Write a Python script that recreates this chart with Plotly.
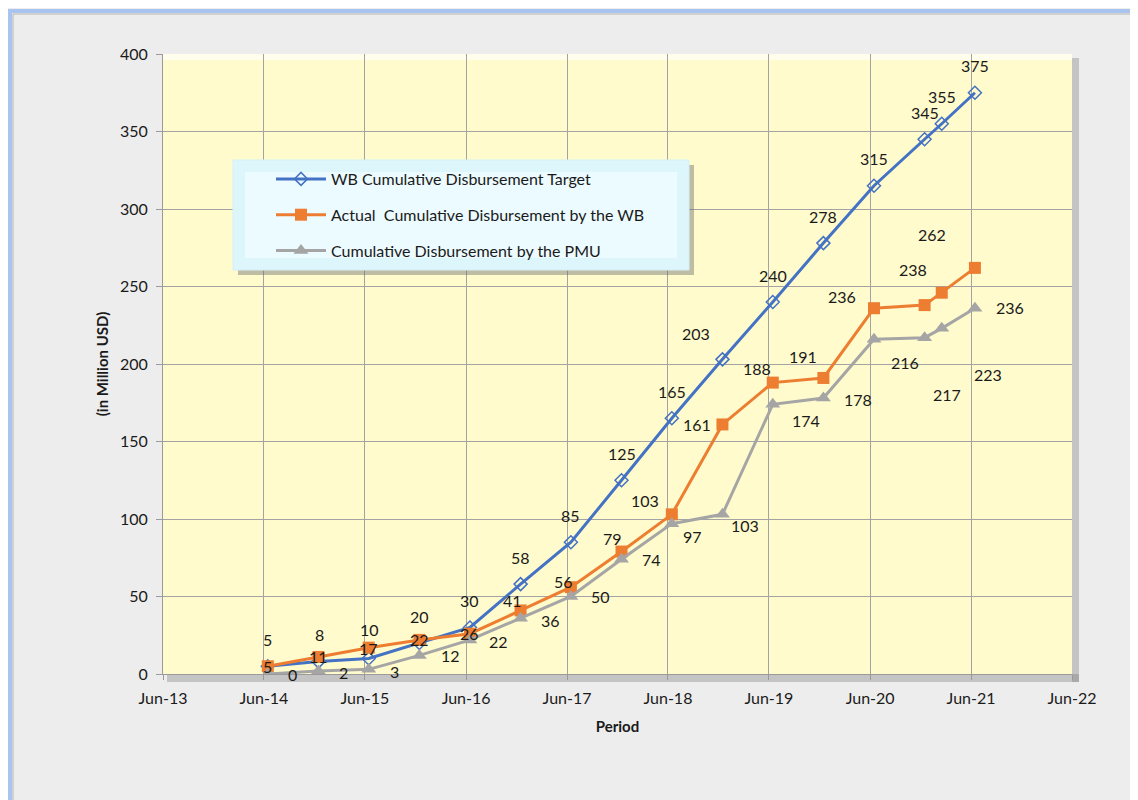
import plotly.graph_objects as go

# ---------------- data ----------------
dates = ["2014-06-15", "2014-12-15", "2015-06-15", "2015-12-15", "2016-06-15",
         "2016-12-15", "2017-06-15", "2017-12-15", "2018-06-15", "2018-12-15",
         "2019-06-15", "2019-12-15", "2020-06-15", "2020-12-15", "2021-02-15",
         "2021-06-15"]
wb_target = [5, 8, 10, 20, 30, 58, 85, 125, 165, 203, 240, 278, 315, 345, 355, 375]
wb_actual = [5, 11, 17, 22, 26, 41, 56, 79, 103, 161, 188, 191, 236, 238, 246, 262]
pmu = [0, 2, 3, 12, 22, 36, 50, 74, 97, 103, 174, 178, 216, 217, 223, 236]
actual_label_shown = [True] * 14 + [False, True]

tick_dates = ["2013-06-01", "2014-06-01", "2015-06-01", "2016-06-01", "2017-06-01",
              "2018-06-01", "2019-06-01", "2020-06-01", "2021-06-01", "2022-06-01"]
tick_text = ["Jun-13", "Jun-14", "Jun-15", "Jun-16", "Jun-17",
             "Jun-18", "Jun-19", "Jun-20", "Jun-21", "Jun-22"]

names = ["WB Cumulative Disbursement Target",
         "Actual  Cumulative Disbursement by the WB",
         "Cumulative Disbursement by the PMU"]

# ---------------- label offsets (pixels, screen dx, dy) ----------------
wb_off = [(0, -27), (1, -27), (1, -29)] + [(0, -27)] * 6 + [(-26, -26)] + [(0, -27)] * 6
act_off = [(0, 0), (0, 0), (0, 1), (0, 0), (0, 0), (-8, -10), (-7, -6), (-9, -13),
           (-27, -14), (-25, 0), (-16, -14), (-20, -21), (-32, -12), (-12, -36),
           (0, 0), (-43, -33)]
pmu_off = [(25, 0), (25, 2), (26, 2), (31, 0), (29, 2), (30, 2), (30, 0), (30, 0),
           (21, 13), (23, 11), (33, 16), (35, 1), (31, 23), (22, 57), (46, 46),
           (35, -1)]

FONT = "Lato"
FS = 16
TXT = "#1a1a1a"
BLUE = "#4472C4"
ORANGE = "#ED7D31"
GRAY = "#A5A5A5"

fig = go.Figure()
fig.add_trace(go.Scatter(
    x=dates, y=wb_target, name=names[0], mode="lines+markers", legendgroup="a",
    line=dict(color=BLUE, width=3),
    marker=dict(symbol="diamond-open", size=10, color=BLUE, line=dict(width=1.5, color=BLUE))))
fig.add_trace(go.Scatter(
    x=dates, y=wb_actual, name=names[1], mode="lines+markers", legendgroup="b",
    line=dict(color=ORANGE, width=3),
    marker=dict(symbol="square", size=12, color=ORANGE)))
fig.add_trace(go.Scatter(
    x=dates, y=pmu, name=names[2], mode="lines+markers", legendgroup="c",
    line=dict(color=GRAY, width=3),
    marker=dict(symbol="triangle-up", size=13, color=GRAY)))

annotations = []
def add_labels(vals, offs, shown=None):
    for i, (d, v) in enumerate(zip(dates, vals)):
        if shown is not None and not shown[i]:
            continue
        dx, dy = offs[i]
        annotations.append(dict(x=d, y=v, xref="x", yref="y", text=str(v),
                                showarrow=False, xshift=dx, yshift=-dy,
                                font=dict(family=FONT, size=FS, color=TXT)))

add_labels(wb_target, wb_off)
add_labels(wb_actual, act_off, actual_label_shown)
add_labels(pmu, pmu_off)

# page offset of the figure (body margin) and plot-area geometry in page pixels
OFF = 8
FW, FH = 1138 - OFF, 800 - OFF
L, R, T, B = 163 - OFF, 1072 - OFF, 54 - OFF, 674 - OFF
W, H = R - L, B - T
def px(x):
    return (x - OFF - L) / W
def py(y):
    return (B - (y - OFF)) / H

shapes = [
    # outer frame
    dict(type="rect", xref="paper", yref="paper", x0=px(10), x1=px(1135), y0=py(812), y1=py(11),
         line=dict(color="#A9C4EE", width=4), fillcolor="rgba(0,0,0,0)", layer="below"),
    dict(type="rect", xref="paper", yref="paper", x0=px(13), x1=px(1132), y0=py(809), y1=py(14),
         line=dict(color="#B4B4B4", width=1), fillcolor="rgba(0,0,0,0)", layer="below"),
    # plot area shadow (right and bottom)
    dict(type="rect", xref="paper", yref="paper", x0=px(1072), x1=px(1079), y0=py(682), y1=py(58),
         line=dict(width=0), fillcolor="rgba(120,120,120,0.35)", layer="below"),
    dict(type="rect", xref="paper", yref="paper", x0=px(167), x1=px(1079), y0=py(682), y1=py(674),
         line=dict(width=0), fillcolor="rgba(120,120,120,0.35)", layer="below"),
    # top highlight inside plot area
    dict(type="rect", xref="paper", yref="paper", x0=0, x1=1, y0=py(60), y1=1,
         line=dict(width=0), fillcolor="rgba(255,255,255,0.6)", layer="below"),
    # legend shadow and box
    dict(type="rect", xref="paper", yref="paper", x0=px(238), x1=px(694), y0=py(275), y1=py(165),
         line=dict(width=0), fillcolor="rgba(110,110,110,0.45)", layer="above"),
    dict(type="rect", xref="paper", yref="paper", x0=px(233), x1=px(689), y0=py(270), y1=py(160),
         line=dict(color="#D3F0F7", width=1), fillcolor="#DDF6FC", layer="above"),
    dict(type="rect", xref="paper", yref="paper", x0=px(245), x1=px(677), y0=py(258), y1=py(172),
         line=dict(width=0), fillcolor="rgba(240,252,255,0.8)", layer="above"),
]

fig.update_layout(
    width=FW, height=FH,
    margin=dict(l=L, r=FW - R, t=T, b=FH - B),
    paper_bgcolor="#EDEDED",
    plot_bgcolor="#FFFBCC",
    font=dict(family=FONT, size=FS, color=TXT),
    showlegend=True,
    legend=dict(x=px(271), y=py(162), xanchor="left", yanchor="top",
                bgcolor="rgba(0,0,0,0)", borderwidth=0, tracegroupgap=12,
                itemwidth=50,
                font=dict(family=FONT, size=FS, color=TXT)),
    xaxis=dict(type="date", range=["2013-06-01", "2022-06-01"],
               tickvals=tick_dates, ticktext=tick_text,
               showgrid=True, gridcolor="#A3A3A3", gridwidth=1,
               showline=True, linecolor="#9A9A9A", linewidth=1,
               ticks="outside", ticklen=5, tickcolor="#9A9A9A",
               ticklabelstandoff=5,
               tickfont=dict(family=FONT, size=FS, color=TXT),
               title=dict(text="<b>Period</b>", standoff=15,
                          font=dict(family=FONT, size=15, color=TXT)),
               zeroline=False),
    yaxis=dict(range=[0, 400], dtick=50, tick0=0,
               showgrid=True, gridcolor="#A3A3A3", gridwidth=1,
               showline=True, linecolor="#9A9A9A", linewidth=1,
               ticks="outside", ticklen=6, tickcolor="#9A9A9A",
               ticklabelstandoff=5,
               tickfont=dict(family=FONT, size=FS, color=TXT),
               title=dict(text="<b>(in Million USD)</b>", standoff=7,
                          font=dict(family=FONT, size=15, color=TXT)),
               zeroline=False),
    annotations=annotations,
    shapes=shapes,
)

fig.write_html("out.html")
